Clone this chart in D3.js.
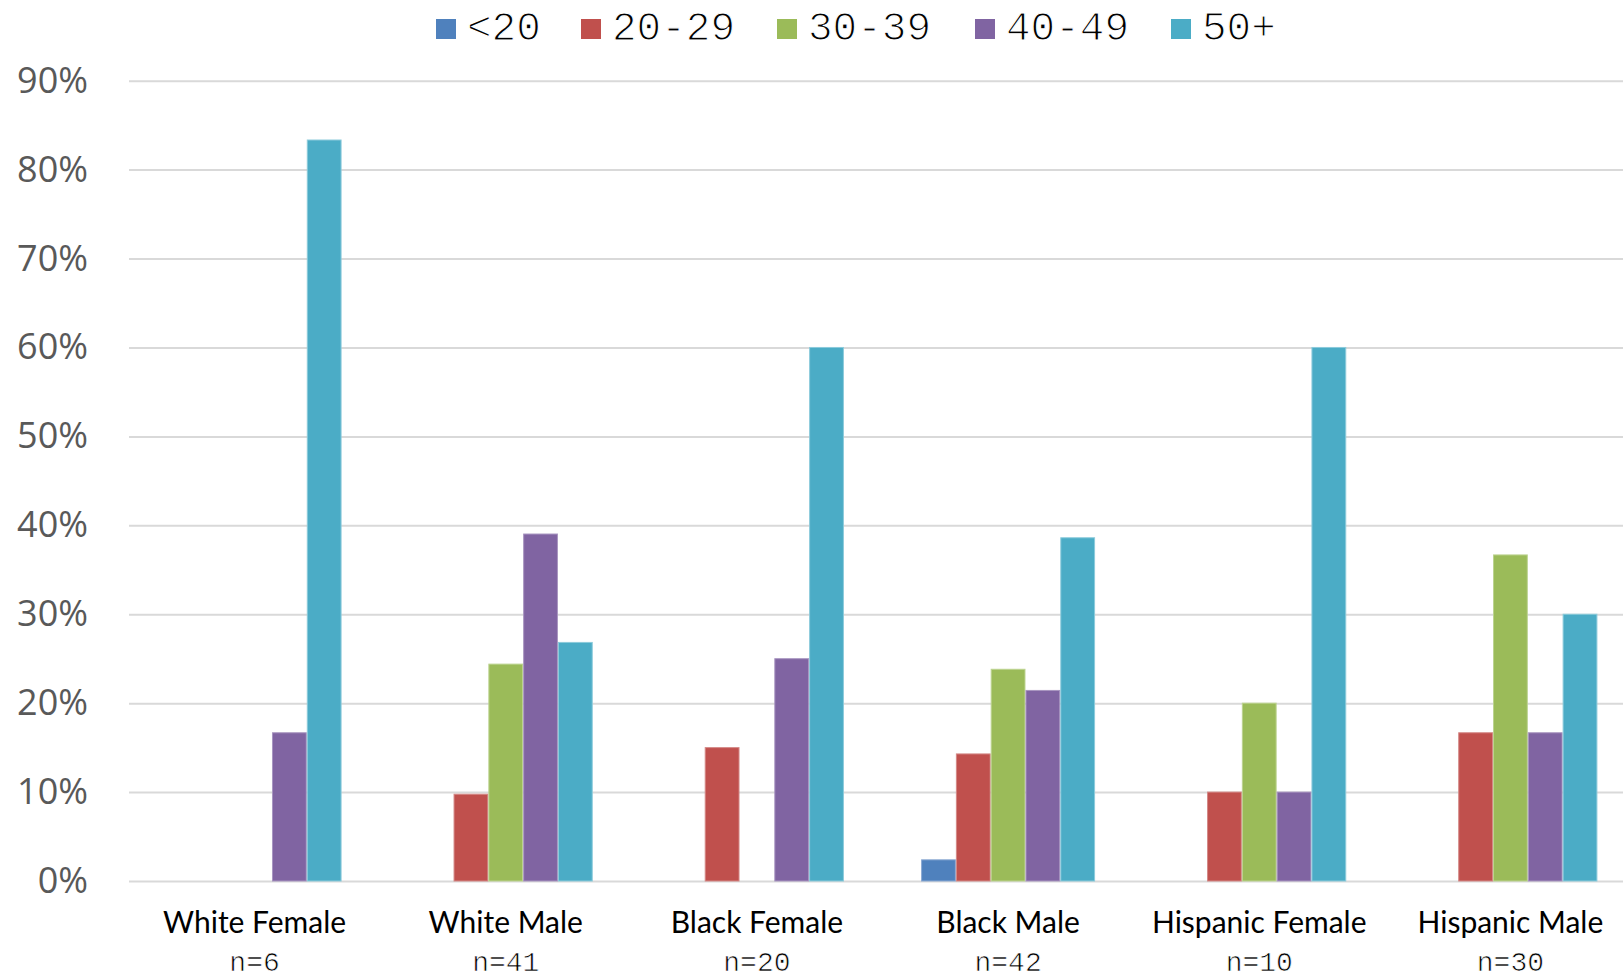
<!DOCTYPE html>
<html>
<head>
<meta charset="utf-8">
<script src="https://cdn.jsdelivr.net/npm/d3@7"></script>
<style>
  html, body { margin: 0; padding: 0; background: #fff; overflow: hidden; }
</style>
</head>
<body>
<script>
// 数据
const categories = ['White Female', 'White Male', 'Black Female', 'Black Male', 'Hispanic Female', 'Hispanic Male'];
const sampleSizes = ['n=6', 'n=41', 'n=20', 'n=42', 'n=10', 'n=30'];
const ageGroups = ['<20', '20-29', '30-39', '40-49', '50+'];
const ageColors = ['#4F81BD', '#C0504D', '#9BBB59', '#8064A2', '#4BACC6'];
const ageStrokes = ['#8aa9d3', '#d48886', '#bcd390', '#a895c0', '#8ccbdb'];
// 每个年龄段在各类别中的比例
const under20 = [0, 0, 0, 0.0238, 0, 0];
const age20to29 = [0, 0.0976, 0.15, 0.1429, 0.10, 0.1667];
const age30to39 = [0, 0.2439, 0, 0.2381, 0.20, 0.3667];
const age40to49 = [0.1667, 0.3902, 0.25, 0.2143, 0.10, 0.1667];
const age50plus = [0.8333, 0.2683, 0.60, 0.386, 0.60, 0.30];
const seriesValues = [under20, age20to29, age30to39, age40to49, age50plus];
const yTicks = [0, 0.1, 0.2, 0.3, 0.4, 0.5, 0.6, 0.7, 0.8, 0.9];

const width = 1623, height = 978;
const plotLeft = 129, plotRight = 1636, plotTop = 80.7, plotBottom = 881;

const svg = d3.select('body')
    .append('svg')
    .attr('width', width)
    .attr('height', height);

// 比例尺
const x0 = d3.scaleBand().domain(categories).range([plotLeft, plotRight]);
const groupWidth = 174;
const x1 = d3.scaleBand().domain(ageGroups)
    .range([(x0.bandwidth() - groupWidth) / 2, (x0.bandwidth() + groupWidth) / 2]);
const y = d3.scaleLinear().domain([0, 0.9]).range([plotBottom, plotTop]);

// 网格线与纵轴标签
const yAxis = svg.append('g')
    .attr('transform', `translate(${plotLeft},0)`)
    .call(d3.axisLeft(y)
        .tickValues(yTicks)
        .tickFormat(d3.format('.0%'))
        .tickSize(-(width - plotLeft))
        .tickPadding(41));
yAxis.select('.domain').remove();
yAxis.selectAll('.tick line').attr('stroke', '#d9d9d9').attr('stroke-width', 2);
yAxis.selectAll('.tick text')
    .attr('fill', '#595959')
    .style('font-family', '"Open Sans", sans-serif')
    .style('font-size', '36px');

// 柱子
const barData = [];
categories.forEach((cat, ci) => {
    ageGroups.forEach((age, ai) => {
        const v = seriesValues[ai][ci];
        if (v > 0) barData.push({ cat, age, ai, v });
    });
});

svg.append('g')
    .selectAll('rect')
    .data(barData)
    .enter()
    .append('rect')
    .attr('x', d => x0(d.cat) + x1(d.age) + 0.5)
    .attr('y', d => y(d.v))
    .attr('width', x1.bandwidth() - 1)
    .attr('height', d => y(0) - y(d.v))
    .attr('fill', d => ageColors[d.ai])
    .attr('stroke', d => ageStrokes[d.ai])
    .attr('stroke-width', 1);

// 横轴类别标签
const xLabels = svg.append('g');
xLabels.selectAll('text.cat')
    .data(categories)
    .enter()
    .append('text')
    .attr('class', 'cat')
    .attr('x', d => x0(d) + x0.bandwidth() / 2)
    .attr('y', 933)
    .attr('text-anchor', 'middle')
    .attr('fill', '#000')
    .style('font-family', 'Lato, sans-serif')
    .style('font-size', '30px')
    .text(d => d);
// 样本量标签（细等宽字体）
xLabels.selectAll('text.n')
    .data(sampleSizes)
    .enter()
    .append('text')
    .attr('class', 'n')
    .attr('x', (d, i) => x0(categories[i]) + x0.bandwidth() / 2)
    .attr('y', 971)
    .attr('text-anchor', 'middle')
    .attr('fill', '#000')
    .attr('stroke', '#fff')
    .attr('stroke-width', 0.7)
    .style('font-family', '"Liberation Mono", monospace')
    .style('font-size', '28px')
    .text(d => d);

// 图例
const legendX = [436, 581, 777, 975, 1171];
const legend = svg.append('g')
    .selectAll('g')
    .data(ageGroups)
    .enter()
    .append('g')
    .attr('transform', (d, i) => `translate(${legendX[i]},0)`);
legend.append('rect')
    .attr('x', 0).attr('y', 19)
    .attr('width', 20).attr('height', 20)
    .attr('fill', (d, i) => ageColors[i]);
legend.append('text')
    .attr('x', 31).attr('y', 40)
    .attr('fill', '#000')
    .attr('stroke', '#fff')
    .attr('stroke-width', 1.2)
    .style('font-family', '"Liberation Mono", monospace')
    .style('font-size', '41px')
    .text(d => d);
</script>
</body>
</html>
